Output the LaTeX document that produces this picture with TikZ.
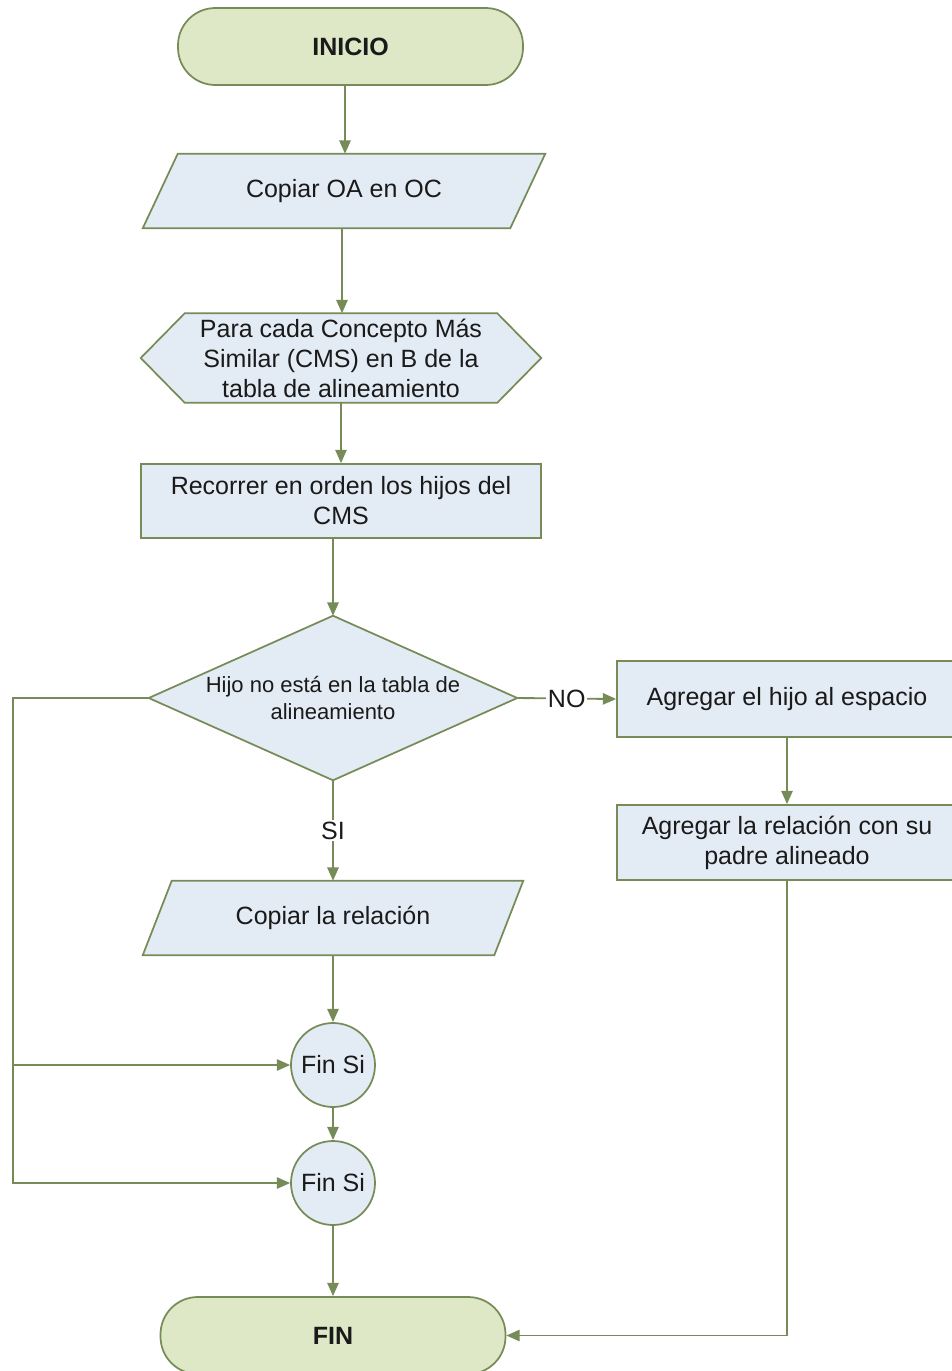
\documentclass[tikz,border=0pt]{standalone}
\usepackage{fontspec}
\setmainfont{Liberation Sans}
\usetikzlibrary{arrows.meta,calc,shapes.geometric}
\pgfdeclarelayer{background}
\pgfsetlayers{background,main}
\definecolor{edge}{HTML}{778B58}
\definecolor{termfill}{HTML}{DEE8C6}
\definecolor{procfill}{HTML}{E3EBF4}
\definecolor{ink}{HTML}{1A1A1A}
\tikzset{
  txt/.style={text=ink, align=center, inner sep=0pt,
    font=\fontsize{18.75}{22.5}\selectfont},
  terminal/.style={txt, draw=edge, fill=termfill, line width=1.3pt,
    rounded corners=28pt, minimum width=258.75pt, minimum height=57.75pt,
    font=\fontsize{18.75}{22.5}\selectfont\bfseries},
  procbox/.style={txt, draw=edge, fill=procfill, line width=1.3pt, rectangle},
  holder/.style={txt, rectangle, draw=none},
  outline/.style={draw=edge, fill=procfill, line width=1.3pt},
  endif/.style={txt, circle, draw=edge, fill=procfill, line width=1.3pt,
    minimum size=63pt},
  flow/.style={draw=edge, line width=1.4pt, -{Triangle[length=10pt,width=8.5pt]}},
  tag/.style={txt, fill=white, inner sep=1.5pt}
}
\begin{document}
\begin{tikzpicture}[x=0.75pt,y=-0.75pt]
\useasboundingbox (0,0) rectangle (952,1371);
\clip (0,0) rectangle (952,1371);

% start
\node[terminal] (ini) at (350.5,46.5) {INICIO};

% copy step (parallelogram)
\node[holder, minimum width=301.5pt, minimum height=55.5pt] (p1) at (344,191) {Copiar OA en OC};

% loop header (hexagon)
\node[holder, minimum width=300pt, minimum height=66.75pt] (hx) at (341,358)
  {Para cada Concepto Más\\Similar (CMS) en B de la\\tabla de alineamiento};

% traverse children
\node[procbox, minimum width=300pt, minimum height=55.5pt] (rc) at (341,501)
  {Recorrer en orden los hijos del\\CMS};

% decision
\node[holder, minimum width=276pt, minimum height=123pt,
  font=\fontsize{16.5}{20}\selectfont] (dc) at (333,698)
  {Hijo no está en la tabla de\\alineamiento};

% NO branch
\node[procbox, minimum width=255pt, minimum height=57pt] (a1) at (787,699)
  {Agregar el hijo al espacio};
\node[procbox, minimum width=255pt, minimum height=56.25pt] (a2) at (787,842.5)
  {Agregar la relación con su\\padre alineado};

% SI branch
\node[holder, minimum width=285pt, minimum height=55.5pt] (cr) at (333,918)
  {Copiar la relación};

% end-if markers
\node[endif] (f1) at (333,1065) {Fin Si};
\node[endif] (f2) at (333,1183) {Fin Si};

% end
\node[terminal] (fin) at (333,1335.5) {FIN};

\coordinate (lx) at (13,0);

% outlines drawn behind the text
\begin{pgfonlayer}{background}
  \draw[outline] ($(p1.north west)+(35,0)$) -- (p1.north east)
    -- ($(p1.south east)+(-35,0)$) -- (p1.south west) -- cycle;
  \draw[outline] (hx.west) -- ($(hx.north west)+(44,0)$) -- ($(hx.north east)+(-44,0)$)
    -- (hx.east) -- ($(hx.south east)+(-44,0)$) -- ($(hx.south west)+(44,0)$) -- cycle;
  \draw[outline] (dc.north) -- (dc.east) -- (dc.south) -- (dc.west) -- cycle;
  \draw[outline] ($(cr.north west)+(29,0)$) -- (cr.north east)
    -- ($(cr.south east)+(-29,0)$) -- (cr.south west) -- cycle;
\end{pgfonlayer}

% connectors
\draw[flow] ($(ini.south)+(-5.5,0)$) coordinate (t0) -- (t0 |- p1.north);
\draw[flow] ($(p1.south)+(-2,0)$) coordinate (t1) -- (t1 |- hx.north);
\draw[flow] (hx.south) -- (rc.north);
\draw[flow] (rc.south -| dc.north) -- (dc.north);
\draw[flow] (dc.east) -- node[tag] {NO} (a1.west);
\draw[flow] (a1.south) -- (a2.north);
\draw[flow] (a2.south) |- (fin.east);
\draw[flow] (dc.south) -- node[tag] {SI} (cr.north);
\draw[flow] (cr.south) -- (f1.north);
\draw[flow] (f1.south) -- (f2.north);
\draw[flow] (f2.south) -- (fin.north);
\draw[flow] (dc.west) -- (dc.west -| lx) |- (f2.west);
\draw[flow] (f1.west -| lx) -- (f1.west);
\end{tikzpicture}
\end{document}
